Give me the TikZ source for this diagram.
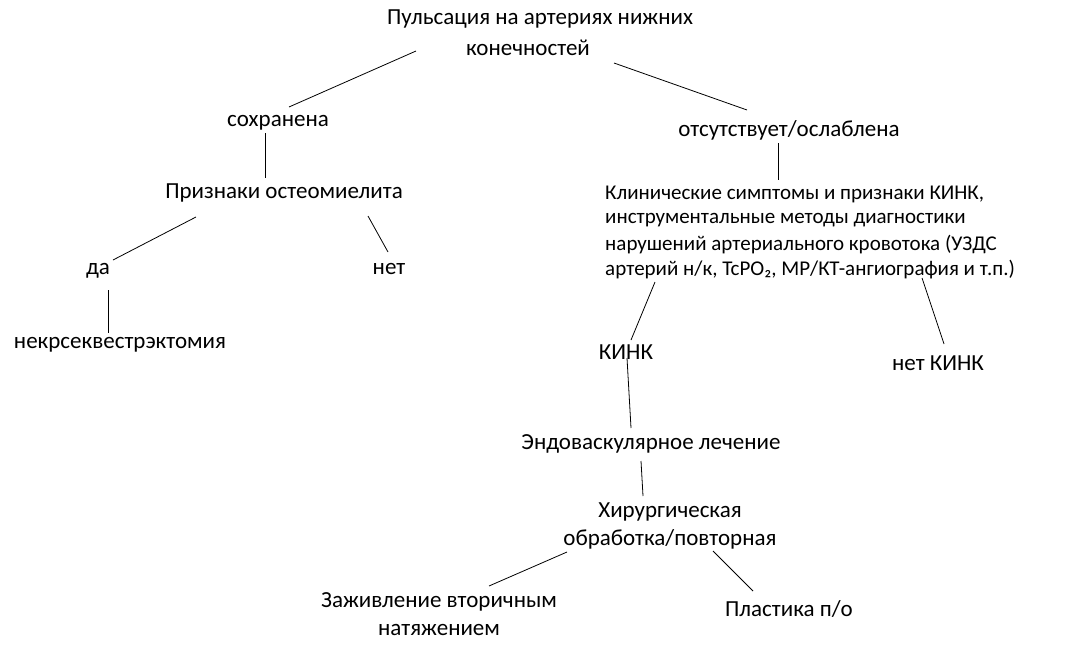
\documentclass[tikz,border=0pt]{standalone}
\usepackage{fontspec}
\setmainfont{Carlito}
\begin{document}
\begin{tikzpicture}[x=1pt,y=-1pt,
  lbl/.style={inner sep=0pt,anchor=center,font=\fontsize{23}{26}\selectfont},
  sm/.style={inner sep=0pt,anchor=west,font=\fontsize{21}{24}\selectfont},
  ln/.style={line width=0.8pt}]
\useasboundingbox[fill=white] (0,0) rectangle (1075,664);
\node[lbl] (t1) at (540,19) {Пульсация на артериях нижних};
\node[lbl] (t2) at (528,48) {конечностей};
\node[lbl] (s) at (278,123) {сохранена};
\node[lbl] (o) at (789,130) {отсутствует/ослаблена};
\node[lbl] (p) at (284,193) {Признаки остеомиелита};
\node[lbl] (da) at (98,271) {да};
\node[lbl] (net) at (389,269) {нет};
\node[lbl] (nek) at (120,345) {некрсеквестрэктомия};
\node[sm] (k1) at (605,194) {Клинические симптомы и признаки КИНК,};
\node[sm] (k2) at (605,220) {инструментальные методы диагностики};
\node[sm] (k3) at (605,245) {нарушений артериального кровотока (УЗДС};
\node[sm] (k4) at (605,270) {артерий н/к, TcPO₂, МР/КТ-ангиография и т.п.)};
\node[lbl] (kink) at (626,352) {КИНК};
\node[lbl] (nk) at (938,363) {нет КИНК};
\node[lbl] (e) at (651,444) {Эндоваскулярное лечение};
\node[lbl] (h1) at (670,512) {Хирургическая};
\node[lbl] (h2) at (670,539) {обработка/повторная};
\node[lbl] (z1) at (439,602) {Заживление вторичным};
\node[lbl] (z2) at (439,630) {натяжением};
\node[lbl] (pl) at (789,609) {Пластика п/о};
\foreach \n/\xa/\ya/\xb/\yb in {a/416/51/289/107, b/614/63/747/110, c/265/133/265/178, d/196/217/113/260,
  e/368/216/388/252, f/108/290/108/333, g/778/143/778/180, h/655/282/631/340, i/922/278/944/344,
  j/627/358/631/428, k/641/461/643/496, l/567/552/489/586, m/713/551/753/591}{
  \coordinate (\n1) at (\xa,\ya); \coordinate (\n2) at (\xb,\yb); \draw[ln] (\n1) -- (\n2);}
\end{tikzpicture}
\end{document}
